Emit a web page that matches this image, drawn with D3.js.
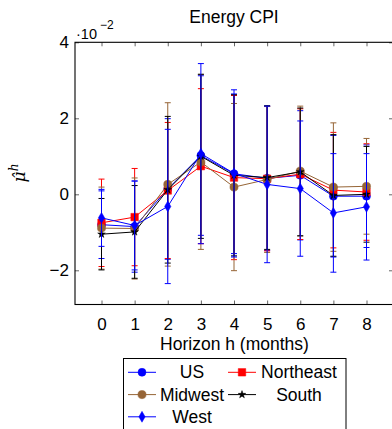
<!DOCTYPE html>
<html>
<head>
<meta charset="utf-8">
<script src="https://cdn.jsdelivr.net/npm/d3@7"></script>
<style>
  body { margin: 0; background: #fff; }
  svg { display: block; font-family: "Liberation Sans", Arial, sans-serif; }
</style>
</head>
<body>
<div id="chart"></div>
<script>
// forecast horizons (months)
const horizons = [0, 1, 2, 3, 4, 5, 6, 7, 8];

// point estimates (x 10^-2) and half-widths of the error bars
const usMean = [-0.80, -0.85, 0.14, 1.02, 0.54, 0.42, 0.50, -0.05, -0.05];
const usErr = [0.89, 1.20, 1.85, 2.10, 2.10, 1.90, 1.70, 1.60, 1.35];
const northeastMean = [-0.75, -0.60, 0.10, 0.74, 0.44, 0.41, 0.53, 0.11, 0.06];
const northeastErr = [1.15, 1.28, 1.79, 2.04, 2.16, 1.90, 1.72, 1.52, 1.27];
const midwestMean = [-0.89, -0.90, 0.26, 0.85, 0.19, 0.39, 0.61, 0.19, 0.21];
const midwestErr = [1.08, 1.33, 2.15, 2.30, 2.20, 1.92, 1.71, 1.69, 1.26];
const southMean = [-1.05, -0.99, 0.12, 1.00, 0.50, 0.44, 0.59, -0.03, 0.00];
const southErr = [0.94, 1.22, 1.93, 2.16, 2.12, 1.89, 1.68, 1.60, 1.26];
const westMean = [-0.62, -0.82, -0.32, 1.07, 0.55, 0.26, 0.15, -0.49, -0.33];
const westErr = [0.75, 1.17, 2.03, 2.37, 2.20, 2.06, 1.78, 1.56, 1.40];

const yTicks = [-2, 0, 2, 4];

const series = [
  { name: "US", mean: usMean, err: usErr, color: "#0000ff", symbol: d3.symbolCircle, size: 50 },
  { name: "Northeast", mean: northeastMean, err: northeastErr, color: "#ff0000", symbol: d3.symbolSquare, size: 56 },
  { name: "Midwest", mean: midwestMean, err: midwestErr, color: "#966536", symbol: d3.symbolCircle, size: 52 },
  { name: "South", mean: southMean, err: southErr, color: "#000000", symbol: d3.symbolStar, size: 18 },
  { name: "West", mean: westMean, err: westErr, color: "#0000ff", symbol: d3.symbolDiamond, size: 34 }
];

const W = 392, H = 429;
const svg = d3.select("#chart").append("svg")
  .attr("width", W)
  .attr("height", H);

const x = d3.scaleLinear().domain([-0.8, 8.8]).range([75, 393]);
const y = d3.scaleLinear().domain([-2.9, 4]).range([304.5, 42.3]);

// ticks (inward, on all four sides)
const tickStyle = g => {
  g.select(".domain").remove();
  g.selectAll(".tick line").attr("stroke", "#555").attr("stroke-width", 0.9);
  g.selectAll(".tick text").attr("font-size", 17).attr("fill", "#000")
    .attr("font-family", "'Liberation Sans', Arial, sans-serif");
};

svg.append("g")
  .attr("transform", `translate(0,${y.range()[0]})`)
  .call(d3.axisBottom(x).tickValues(horizons).tickFormat(d3.format("d"))
    .tickSizeInner(-4).tickSizeOuter(0).tickPadding(8))
  .call(tickStyle)
  .call(g => g.selectAll(".tick text").attr("dy", "1em"));

svg.append("g")
  .attr("transform", `translate(0,${y.range()[1]})`)
  .call(d3.axisTop(x).tickValues(horizons).tickFormat("").tickSizeInner(-4).tickSizeOuter(0))
  .call(tickStyle);

svg.append("g")
  .attr("transform", `translate(${x.range()[0]},0)`)
  .call(d3.axisLeft(y).tickValues(yTicks).tickFormat(d => d < 0 ? "\u2212" + Math.abs(d) : d)
    .tickSizeInner(-4).tickSizeOuter(0).tickPadding(6))
  .call(tickStyle);

svg.append("g")
  .attr("transform", `translate(${x.range()[1]},0)`)
  .call(d3.axisRight(y).tickValues(yTicks).tickFormat("").tickSizeInner(-4).tickSizeOuter(0))
  .call(tickStyle);

// axis frame
svg.append("rect")
  .attr("x", x.range()[0]).attr("y", y.range()[1])
  .attr("width", x.range()[1] - x.range()[0])
  .attr("height", y.range()[0] - y.range()[1])
  .attr("fill", "none").attr("stroke", "#000").attr("stroke-width", 1.1);

// series: error bars, line, markers
const line = d3.line().x((d, i) => x(horizons[i])).y(d => y(d));
const capW = 3;

series.forEach(s => {
  const g = svg.append("g");
  horizons.forEach((h, i) => {
    const lo = y(s.mean[i] - s.err[i]), hi = y(s.mean[i] + s.err[i]), cx = x(h);
    g.append("line").attr("x1", cx).attr("x2", cx).attr("y1", lo).attr("y2", hi)
      .attr("stroke", s.color).attr("stroke-width", 1);
    [lo, hi].forEach(yy => g.append("line")
      .attr("x1", cx - capW).attr("x2", cx + capW).attr("y1", yy).attr("y2", yy)
      .attr("stroke", s.color).attr("stroke-width", 1));
  });
  g.append("path").datum(s.mean).attr("d", line)
    .attr("fill", "none").attr("stroke", s.color).attr("stroke-width", 1);
  g.selectAll(".mark").data(s.mean).enter().append("path")
    .attr("class", "mark")
    .attr("transform", (d, i) => `translate(${x(horizons[i])},${y(d)})`)
    .attr("d", d3.symbol().type(s.symbol).size(s.size))
    .attr("fill", s.color).attr("stroke", s.color).attr("stroke-width", 0.5);
});

// title and labels
svg.append("text").attr("x", 234).attr("y", 22.7).attr("text-anchor", "middle")
  .attr("font-size", 17.5).text("Energy CPI");

svg.append("text").attr("x", 234.5).attr("y", 350).attr("text-anchor", "middle")
  .attr("font-size", 17.5).text("Horizon h (months)");

svg.append("text").attr("x", 76).attr("y", 38.5).attr("font-size", 14.5).text("\u00b710");
svg.append("text").attr("x", 100).attr("y", 28.5).attr("font-size", 12).text("\u22122");

const yl = svg.append("text")
  .attr("transform", "translate(25,173) rotate(-90)")
  .attr("text-anchor", "middle")
  .attr("font-family", "'DejaVu Serif', 'Liberation Serif', serif")
  .attr("font-style", "italic").attr("font-size", 17);
yl.append("tspan").text("\u03bc\u0302");
yl.append("tspan").attr("font-size", 12).attr("dy", -7).text("h");

// legend
const lg = svg.append("g");
lg.append("rect").attr("x", 123.5).attr("y", 358.5).attr("width", 222.5).attr("height", 90)
  .attr("fill", "#fff").attr("stroke", "#000").attr("stroke-width", 1);

const legendPos = [
  { lx: 128, tx: 192, by: 378.3 },
  { lx: 228, tx: 299, by: 378.3 },
  { lx: 128, tx: 192, by: 400.6 },
  { lx: 228, tx: 299, by: 400.6 },
  { lx: 128, tx: 192, by: 422.8 }
];

series.forEach((s, i) => {
  const p = legendPos[i];
  const my = p.by - 6;
  lg.append("line").attr("x1", p.lx).attr("x2", p.lx + 28).attr("y1", my).attr("y2", my)
    .attr("stroke", s.color).attr("stroke-width", 1);
  lg.append("path").attr("transform", `translate(${p.lx + 14},${my})`)
    .attr("d", d3.symbol().type(s.symbol).size(s.size))
    .attr("fill", s.color).attr("stroke", s.color).attr("stroke-width", 0.5);
  lg.append("text").attr("x", p.tx).attr("y", p.by).attr("text-anchor", "middle")
    .attr("font-size", 17.5).text(s.name);
});
</script>
</body>
</html>
